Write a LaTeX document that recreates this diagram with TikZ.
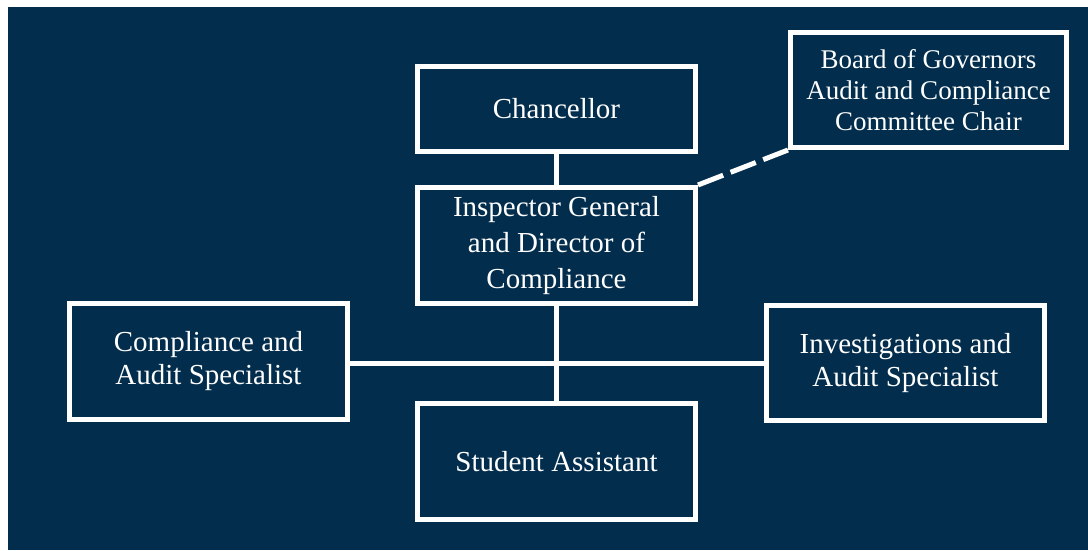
\documentclass[tikz,border=0pt]{standalone}
\usepackage{fontspec}
\setmainfont{Liberation Serif}
\definecolor{navy}{HTML}{022D4C}
\begin{document}
\begin{tikzpicture}[x=1pt,y=-1pt,
  orgbox/.style={draw=white, line width=5pt, fill=navy, text=white,
    align=center, inner sep=0pt, font=\fontsize{29}{33}\selectfont},
  link/.style={draw=white, line width=5pt},
  dashlink/.style={draw=white, line width=5pt, dash pattern=on 27pt off 8pt}]
  % canvas
  \useasboundingbox (0,0) rectangle (1088,550);
  \fill[white] (0,0) rectangle (1088,550);
  \fill[navy] (8,7) rectangle (1088,550);

  % anchor points of the central column and the horizontal branch
  \coordinate (hub) at (556,363.5);
  \coordinate (chanC) at (556.5,109);
  \coordinate (inspC) at (556.5,245.5);
  \coordinate (studC) at (556.5,461.5);

  % boxes
  \node[orgbox, minimum width=278pt, minimum height=85pt] (chan) at (chanC) {Chancellor};
  \node[orgbox, minimum width=278pt, minimum height=116pt,
        font=\fontsize{29}{36}\selectfont] (insp) at (inspC)
        {Inspector General\\and Director of\\Compliance};
  \node[orgbox, minimum width=276pt, minimum height=115pt,
        font=\fontsize{27}{31}\selectfont] (board) at (928.5,90)
        {Board of Governors\\Audit and Compliance\\Committee Chair};
  \node[orgbox, minimum width=278pt, minimum height=116pt] (comp) at (208.5,361.5)
        {Compliance and\\Audit Specialist};
  \node[orgbox, minimum width=278pt, minimum height=115pt] (inv) at (905.5,363)
        {Investigations and\\Audit Specialist};
  \node[orgbox, minimum width=278pt, minimum height=116pt] (stud) at (studC)
        {Student Assistant};

  % reporting lines
  \draw[link] (chan.south) -- (insp.north);
  \draw[link] (insp.south) -- (stud.north);
  \draw[link] (comp.east |- hub) -- (inv.west |- hub);
  \draw[dashlink] (insp.north east) -- (board.south west);
\end{tikzpicture}
\end{document}
